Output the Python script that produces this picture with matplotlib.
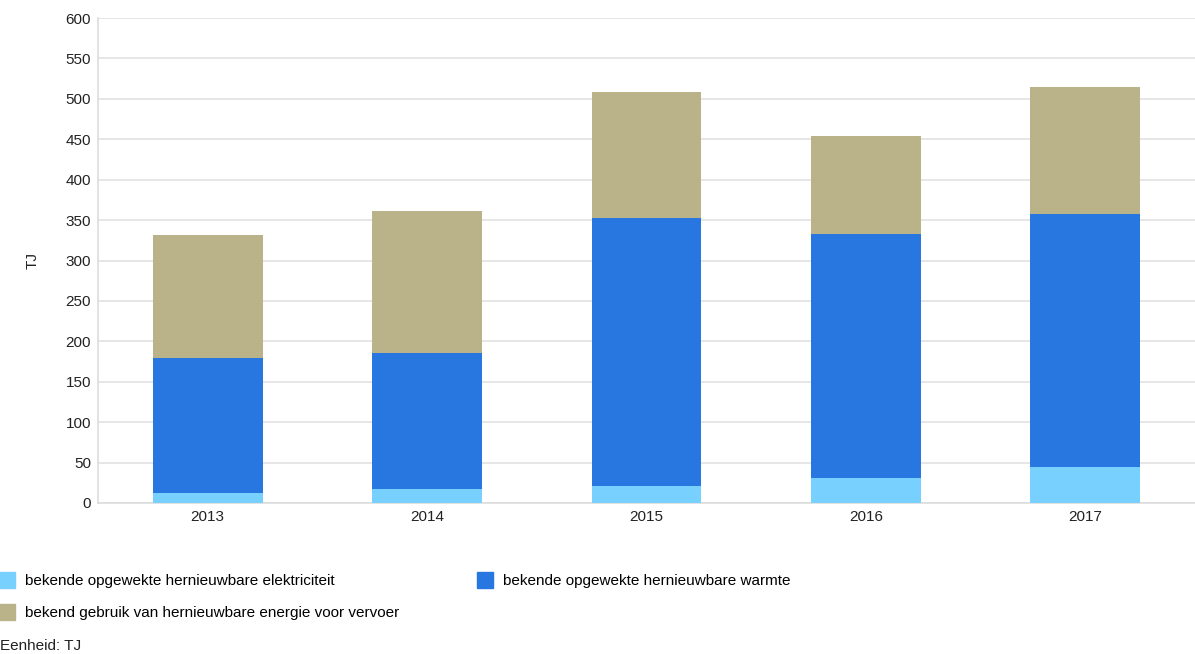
import numpy as np
import matplotlib
matplotlib.use("Agg")
import matplotlib.pyplot as plt
from matplotlib.patches import Patch

plt.rcParams['font.family'] = ['Liberation Sans', 'DejaVu Sans']

years = ['2013', '2014', '2015', '2016', '2017']
elektriciteit = [12.5, 17, 21, 31, 45]
warmte = [167, 168, 332, 302, 312]
vervoer = [152, 176, 156, 121, 158]

labels = ['bekende opgewekte hernieuwbare elektriciteit',
          'bekende opgewekte hernieuwbare warmte',
          'bekend gebruik van hernieuwbare energie voor vervoer']
colors = ['#78d0ff', '#2876e0', '#bab288']

fig = plt.figure(figsize=(11.95, 6.54), dpi=100)
ax = fig.add_axes([98 / 1195, 151 / 654, 1 - 98 / 1195, 485 / 654])

x = np.arange(len(years))
bottom = np.zeros(len(years))
for vals, col in zip([elektriciteit, warmte, vervoer], colors):
    ax.bar(x, vals, width=0.5, bottom=bottom, color=col, zorder=3)
    bottom += np.array(vals)

ax.set_xlim(-0.5, len(years) - 0.5)
ax.set_ylim(0, 600)
ax.set_yticks(np.arange(0, 601, 50))
ax.set_xticks(x)
ax.set_xticklabels(years)
ax.tick_params(length=0, labelsize=11, colors='#222222')
ax.tick_params(axis='y', pad=5)
ax.tick_params(axis='x', pad=5)
ax.grid(axis='y', color='#e2e2e2', linewidth=1.2, zorder=0)
for s in ['top', 'right']:
    ax.spines[s].set_visible(False)
for s in ['left', 'bottom']:
    ax.spines[s].set_color('#dddddd')
    ax.spines[s].set_linewidth(1.2)
ax.set_ylabel('TJ', fontsize=11, color='#222222', labelpad=19)

handles = [Patch(color=colors[0], label=labels[0]),
           Patch(color=colors[2], label=labels[2]),
           Patch(color=colors[1], label=labels[1])]
fig.legend(handles=handles, loc='upper left', bbox_to_anchor=(0.0, 1 - 572 / 654),
           ncol=2, frameon=False, fontsize=11, handlelength=1.0, handleheight=1.2,
           handletextpad=0.65, columnspacing=5.1, labelspacing=1.05, borderaxespad=0,
           borderpad=0)

fig.text(0.0, 1 - 646 / 654, 'Eenheid: TJ', fontsize=11, va='center', ha='left', color='#222222')

fig.savefig('out.png', dpi=100)
